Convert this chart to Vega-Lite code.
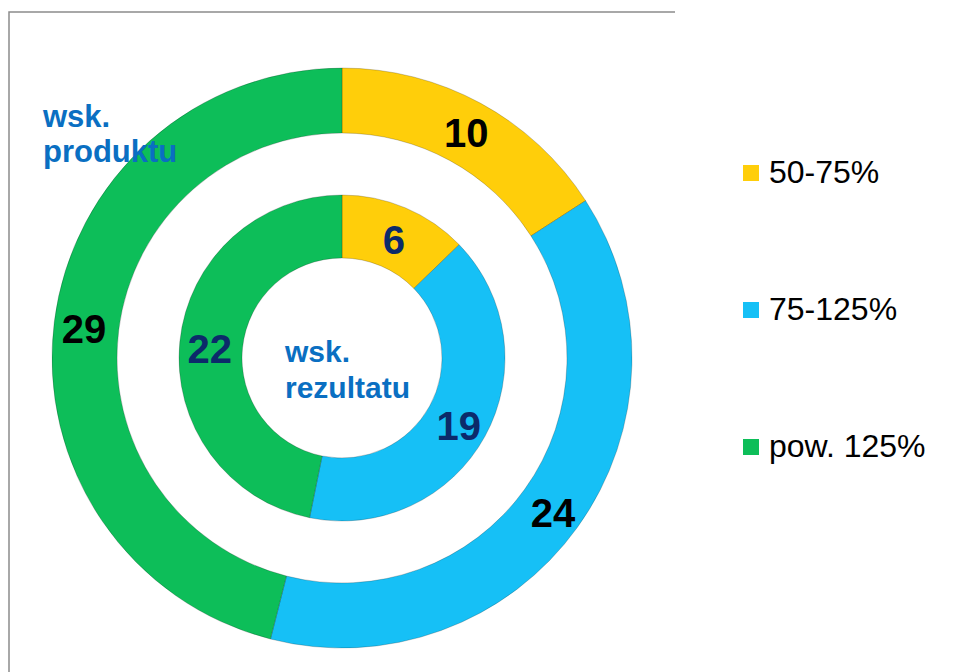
{
  "$schema": "https://vega.github.io/schema/vega-lite/v6.json",
  "width": 666,
  "height": 692,
  "autosize": "none",
  "padding": {"left": 9, "top": 12, "right": 286, "bottom": -32},
  "background": "white",
  "view": {"stroke": "#8c8c8c", "strokeWidth": 1.5, "strokeDash": [666, 692, 2000]},
  "config": {
    "font": "Liberation Sans"
  },
  "datasets": {
    "d": [
      {"ring": "outer", "cat": "50-75%", "n": 10},
      {"ring": "outer", "cat": "75-125%", "n": 24},
      {"ring": "outer", "cat": "pow. 125%", "n": 29},
      {"ring": "inner", "cat": "50-75%", "n": 6},
      {"ring": "inner", "cat": "75-125%", "n": 19},
      {"ring": "inner", "cat": "pow. 125%", "n": 22}
    ],
    "rings": [
      {"ring": "outer", "name": "wsk.\nproduktu"},
      {"ring": "inner", "name": "wsk.\nrezultatu"}
    ]
  },
  "layer": [
    {
      "data": {"name": "d"},
      "transform": [{"filter": "datum.ring === 'outer'"}],
      "mark": {"type": "arc", "outerRadius": 290, "innerRadius": 225, "stroke": "#000000", "strokeOpacity": 0.2, "strokeWidth": 1},
      "encoding": {
        "theta": {"field": "n", "type": "quantitative", "stack": "normalize"},
        "order": {"field": "cat"},
        "color": {
          "field": "cat",
          "type": "nominal",
          "scale": {"domain": ["50-75%", "75-125%", "pow. 125%"], "range": ["#FFCE0A", "#16C0F6", "#0DBE59"]},
          "legend": {
            "orient": "none",
            "legendX": 726,
            "legendY": 145,
            "title": null,
            "padding": 0,
            "labelFont": "Liberation Sans",
            "labelFontSize": 32,
            "labelColor": "#000000",
            "labelOffset": 2,
            "symbolType": "square",
            "symbolSize": 256,
            "symbolStrokeWidth": 0,
            "rowPadding": 105
          }
        }
      }
    },
    {
      "data": {"name": "d"},
      "transform": [{"filter": "datum.ring === 'inner'"}],
      "mark": {"type": "arc", "outerRadius": 163, "innerRadius": 100, "stroke": "#000000", "strokeOpacity": 0.2, "strokeWidth": 1},
      "encoding": {
        "theta": {"field": "n", "type": "quantitative", "stack": "normalize"},
        "order": {"field": "cat"},
        "color": {"field": "cat", "type": "nominal"}
      }
    },
    {
      "data": {"name": "d"},
      "transform": [{"filter": "datum.ring === 'outer'"}],
      "mark": {"type": "text", "radius": 260, "font": "Liberation Sans", "fontSize": 40, "fontWeight": "bold", "color": "#000000", "align": "center", "baseline": "middle", "dy": 5},
      "encoding": {
        "theta": {"field": "n", "type": "quantitative", "stack": "normalize"},
        "order": {"field": "cat"},
        "detail": {"field": "cat"},
        "text": {"field": "n", "type": "quantitative"}
      }
    },
    {
      "data": {"name": "d"},
      "transform": [{"filter": "datum.ring === 'inner'"}],
      "mark": {"type": "text", "radius": 133, "font": "Liberation Sans", "fontSize": 40, "fontWeight": "bold", "color": "#0C2A6A", "align": "center", "baseline": "middle", "dy": 6},
      "encoding": {
        "theta": {"field": "n", "type": "quantitative", "stack": "normalize"},
        "order": {"field": "cat"},
        "detail": {"field": "cat"},
        "text": {"field": "n", "type": "quantitative"}
      }
    },
    {
      "data": {"name": "rings"},
      "transform": [{"filter": "datum.ring === 'outer'"}],
      "mark": {"type": "text", "font": "Liberation Sans", "fontSize": 31, "fontWeight": "bold", "color": "#0A6FC2", "align": "left", "baseline": "alphabetic", "lineBreak": "\n", "lineHeight": 35, "dx": -299, "dy": -231},
      "encoding": {"text": {"field": "name"}}
    },
    {
      "data": {"name": "rings"},
      "transform": [{"filter": "datum.ring === 'inner'"}],
      "mark": {"type": "text", "font": "Liberation Sans", "fontSize": 30, "fontWeight": "bold", "color": "#0A6FC2", "align": "left", "baseline": "alphabetic", "lineBreak": "\n", "lineHeight": 36, "dx": -57, "dy": 4},
      "encoding": {"text": {"field": "name"}}
    }
  ]
}
